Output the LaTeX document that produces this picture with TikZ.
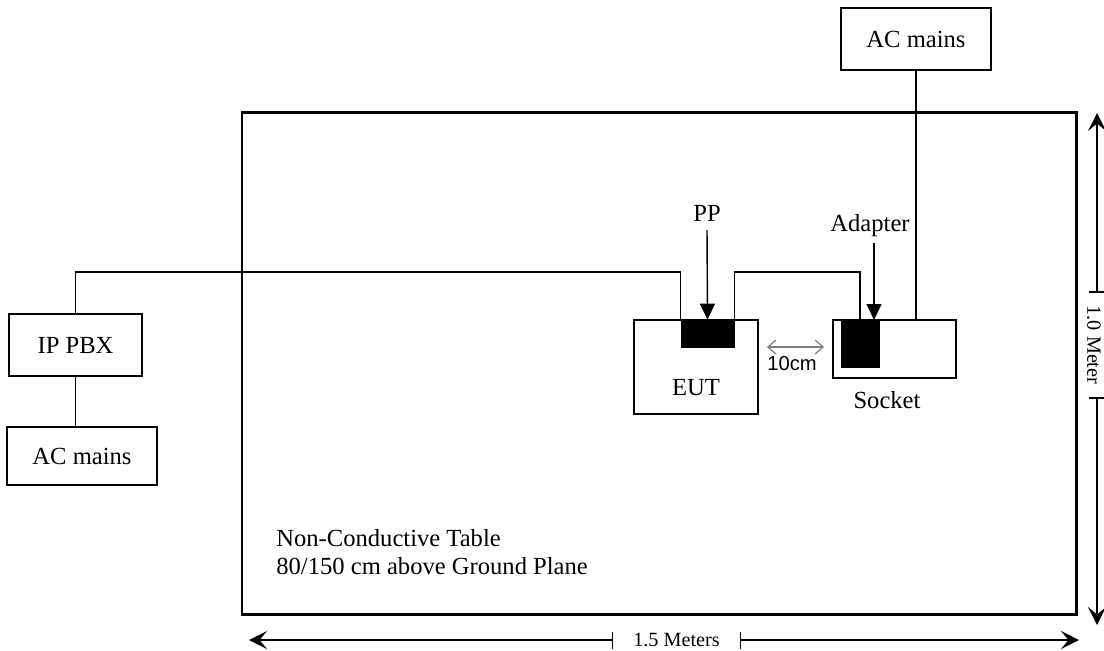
\documentclass[tikz,border=0pt]{standalone}
\usepackage{fontspec}
\setmainfont{Liberation Serif}
\newfontfamily\labelsans{Liberation Sans}
\usepackage{tikz}
\usetikzlibrary{arrows.meta,calc}

\tikzset{
	unit/.style={draw, line width=1.1pt, inner sep=0pt, font=\fontsize{14}{16}\selectfont},
	plug/.style={fill=black, draw=black, inner sep=0pt},
	cable/.style={line width=0.8pt},
	pointer/.style={line width=0.8pt, -{Triangle[length=3.2mm,width=3mm]}},
	dimline/.style={line width=0.8pt, {Stealth[length=3.6mm,width=3.6mm,inset=1.5mm]}-{Bar[width=3.4mm]}},
	lbl/.style={inner sep=0pt, font=\fontsize{14}{16}\selectfont},
	dimlbl/.style={font=\fontsize{11.5}{13}\selectfont, inner ysep=0pt}
}

\begin{document}
\begin{tikzpicture}[x=0.02cm,y=-0.02cm]

	\useasboundingbox (0,0) rectangle (1104,650);

	\draw[line width=1.7pt] (242,112) rectangle (1076,614); %table

	\node[unit, minimum width=3.0cm, minimum height=1.24cm] (acmainsA) at (916,39) {AC mains};
	\node[unit, minimum width=2.48cm, minimum height=1.88cm] (eut) at (696,367) {};
	\node[lbl] (eutlabel) at (696,388) {EUT};
	\node[unit, minimum width=2.46cm, minimum height=1.16cm] (socket) at (894.5,349) {};
	\node[lbl] (socketlabel) at (887,400) {Socket};
	\node[unit, minimum width=2.66cm, minimum height=1.24cm] (pbx) at (75.5,345) {IP PBX};
	\node[unit, minimum width=3.0cm, minimum height=1.16cm] (acmainsB) at (82,456) {AC mains};

	\node[plug, minimum width=1.06cm, minimum height=0.54cm] (ppplug) at (707.5,333.5) {}; %PP
	\node[plug, minimum width=0.76cm, minimum height=0.94cm] (adapter) at (860,343.5) {}; %adapter

	\node[lbl] (pplabel) at (707,213) {PP};
	\node[lbl] (adapterlabel) at (870,226) {Adapter};

	\coordinate (cabley) at (0,272);
	\draw[cable] (pbx.north) |- (cabley -| ppplug.north west) -- (ppplug.north west);
	\draw[cable] (ppplug.north east) |- (cabley -| adapter.north) -- (adapter.north);
	\draw[cable] (acmainsA.south) -- (socket.north -| acmainsA.south); %mains to socket
	\draw[cable] (pbx.south) -- (pbx.south |- acmainsB.north);

	\draw[pointer] (pplabel.south |- 0,230) -- (ppplug.north);
	\draw[pointer] (874,243) -- (874,320);

	\draw[gray, line width=0.7pt, {Straight Barb[length=1.6mm,width=2.8mm]}-{Straight Barb[length=1.6mm,width=2.8mm]}] ($(eut.east |- 0,347)+(8,0)$) -- ($(socket.west |- 0,347)+(-8,0)$);
	\node[inner sep=0pt, font=\labelsans\fontsize{11.5}{13}\selectfont] (gap) at (792,364) {10cm};

	\node[lbl, anchor=north west, align=left, font=\fontsize{14}{16}\selectfont] (tabletext) at (276,529) {Non-Conductive Table\\80/150 cm above Ground Plane};

	% dimensions
	\coordinate (wleft) at (249,640);
	\coordinate (wright) at (1079,640);
	\node[dimlbl, inner xsep=0.4cm] (width) at (676.5,640) {1.5 Meters};
	\draw[dimline] (wleft) -- (width.west);
	\draw[dimline] (wright) -- (width.east);

	\coordinate (htop) at (1097,113);
	\coordinate (hbottom) at (1097,625);
	\node[dimlbl, rotate=-90, inner xsep=0.25cm] (height) at (1094,345) {1.0 Meter};
	\draw[dimline] (htop) -- (htop |- height.west);
	\draw[dimline] (hbottom) -- (hbottom |- height.east);

\end{tikzpicture}
\end{document}
